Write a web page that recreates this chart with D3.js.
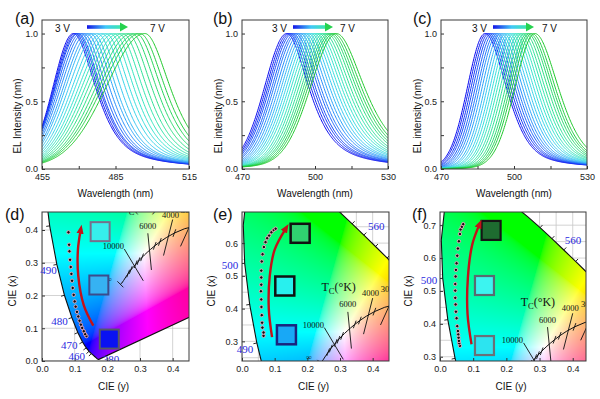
<!DOCTYPE html>
<html>
<head>
<meta charset="utf-8">
<script src="https://cdn.jsdelivr.net/npm/d3@7"></script>
<style>
  body { margin: 0; background: #fff; }
  svg { display: block; font-family: "Liberation Sans", Arial, sans-serif; }
</style>
</head>
<body>
<div id="fig"></div>
<script>
//** top row: EL spectra, 3 V -> 7 V (peak nm, left / right half widths nm) */
const voltText = ["3 V", "7 V"];
const aPeaks = [467.8, 468.5, 469.2, 469.8, 470.8, 471.9, 473.2, 474.6, 475.9, 477.6, 479.4, 481.0, 482.8, 484.4, 486.2, 487.9, 489.8, 491.6, 493.4, 495.0, 497.0];
const aHwl = [9.8, 10.2, 10.6, 11.0, 11.5, 11.9, 12.4, 12.8, 13.2, 13.7, 14.2, 14.6, 15.1, 15.5, 16.0, 16.4, 16.9, 17.3, 17.8, 18.2, 18.7];
const aHwr = [11.0, 11.0, 11.1, 11.1, 11.2, 11.2, 11.3, 11.4, 11.4, 11.5, 11.6, 11.7, 11.7, 11.8, 11.9, 12.0, 12.1, 12.2, 12.3, 12.4, 12.5];
const bPeaks = [488.4, 489.2, 490.0, 490.8, 491.8, 492.7, 493.8, 494.9, 496.0, 497.1, 498.2, 499.3, 500.4, 501.5, 502.6, 503.7, 504.8, 505.8, 506.7, 507.7, 508.8];
const bHwl = [10.8, 10.9, 11.0, 11.1, 11.2, 11.3, 11.4, 11.5, 11.6, 11.7, 11.8, 11.9, 12.0, 12.0, 12.1, 12.2, 12.3, 12.4, 12.4, 12.5, 12.6];
const bHwr = [11.0, 11.1, 11.3, 11.4, 11.6, 11.7, 11.9, 12.0, 12.2, 12.3, 12.5, 12.6, 12.8, 12.9, 13.1, 13.2, 13.4, 13.5, 13.7, 13.8, 14.0];
const cPeaks = [488.1, 488.9, 489.7, 490.6, 491.5, 492.5, 493.4, 494.5, 495.6, 496.7, 497.8, 498.9, 500.0, 501.1, 502.2, 503.3, 504.4, 505.5, 506.4, 507.4, 508.6];
const cHwl = [8.5, 8.6, 8.6, 8.7, 8.7, 8.8, 8.8, 8.9, 8.9, 9.0, 9.0, 9.1, 9.1, 9.2, 9.2, 9.3, 9.3, 9.4, 9.4, 9.5, 9.6];
const cHwr = [10.5, 10.5, 10.6, 10.6, 10.7, 10.7, 10.8, 10.8, 10.9, 10.9, 11.0, 11.0, 11.1, 11.1, 11.2, 11.2, 11.3, 11.3, 11.4, 11.4, 11.5];

//** bottom row: CIE 1931 spectral locus */
const locusNm = [380, 385, 390, 395, 400, 405, 410, 415, 420, 425, 430, 435, 440, 445, 450, 455, 460, 465, 470, 475, 480, 485, 490, 495, 500, 505, 510, 515, 520, 525, 530, 535, 540, 545, 550, 555, 560, 565, 570, 575, 580, 585, 590, 595, 600, 605, 610, 620, 630, 640, 650, 660, 680, 700];
const locusX = [0.1741, 0.1740, 0.1738, 0.1736, 0.1733, 0.1730, 0.1726, 0.1721, 0.1714, 0.1703, 0.1689, 0.1669, 0.1644, 0.1611, 0.1566, 0.1510, 0.1440, 0.1355, 0.1241, 0.1096, 0.0913, 0.0687, 0.0454, 0.0235, 0.0082, 0.0039, 0.0139, 0.0389, 0.0743, 0.1142, 0.1547, 0.1929, 0.2296, 0.2658, 0.3016, 0.3373, 0.3731, 0.4087, 0.4441, 0.4788, 0.5125, 0.5448, 0.5752, 0.6029, 0.6270, 0.6482, 0.6658, 0.6915, 0.7079, 0.7190, 0.7260, 0.7300, 0.7334, 0.7347];
const locusY = [0.0050, 0.0050, 0.0049, 0.0049, 0.0048, 0.0048, 0.0048, 0.0048, 0.0051, 0.0058, 0.0069, 0.0086, 0.0109, 0.0138, 0.0177, 0.0227, 0.0297, 0.0399, 0.0578, 0.0868, 0.1327, 0.2007, 0.2950, 0.4127, 0.5384, 0.6548, 0.7502, 0.8120, 0.8338, 0.8262, 0.8059, 0.7816, 0.7543, 0.7243, 0.6923, 0.6589, 0.6245, 0.5896, 0.5547, 0.5202, 0.4866, 0.4544, 0.4242, 0.3965, 0.3725, 0.3514, 0.3340, 0.3083, 0.2920, 0.2809, 0.2740, 0.2700, 0.2666, 0.2653];
const locusTicks = [455, 460, 465, 470, 475, 480, 485, 490, 495, 500, 550, 555, 560, 565, 570];

//** Planckian locus (T in K, "inf" first) */
const planckT = ["inf", 50000, 30000, 20000, 15000, 12000, 10000, 9000, 8000, 7000, 6500, 6000, 5500, 5000, 4500, 4000, 3500, 3000, 2500, 2000];
const planckX = [0.2399, 0.2446, 0.2497, 0.2565, 0.2637, 0.2718, 0.2807, 0.2869, 0.2952, 0.3064, 0.3135, 0.3221, 0.3325, 0.3451, 0.3608, 0.3805, 0.4053, 0.4369, 0.4770, 0.5267];
const planckY = [0.2342, 0.2382, 0.2457, 0.2564, 0.2670, 0.2779, 0.2884, 0.2956, 0.3048, 0.3166, 0.3237, 0.3318, 0.3411, 0.3516, 0.3636, 0.3768, 0.3907, 0.4041, 0.4137, 0.4133];
const shortIsoT = [15000, 12000, 9000, 8000, 7000, 5000, 4500, 3500];
const isoNames = ["10000", "6000", "4000", "3000"];
const isoEnds = [[0.252, 0.342, 0.310, 0.245], [0.324, 0.390, 0.335, 0.278], [0.400, 0.432, 0.372, 0.322], [0.458, 0.425, 0.424, 0.350]];

//** measured colour coordinates, 3 V (bottom) -> 7 V (top) */
const dPts = [[0.136, 0.076], [0.132, 0.082], [0.128, 0.091], [0.123, 0.101], [0.119, 0.111], [0.115, 0.123], [0.111, 0.136], [0.107, 0.150], [0.103, 0.166], [0.100, 0.182], [0.097, 0.202], [0.094, 0.223], [0.092, 0.245], [0.090, 0.266], [0.088, 0.287], [0.086, 0.309], [0.084, 0.335], [0.083, 0.355], [0.081, 0.393]];
const ePts = [[0.066, 0.317], [0.066, 0.327], [0.0625, 0.342], [0.0615, 0.357], [0.0605, 0.380], [0.0595, 0.405], [0.059, 0.428], [0.058, 0.453], [0.059, 0.473], [0.059, 0.495], [0.059, 0.516], [0.0605, 0.544], [0.063, 0.566], [0.067, 0.588], [0.072, 0.603], [0.077, 0.615], [0.083, 0.623], [0.090, 0.633], [0.097, 0.640], [0.103, 0.644]];
const fPts = [[0.060, 0.333], [0.058, 0.341], [0.057, 0.348], [0.056, 0.358], [0.055, 0.368], [0.054, 0.378], [0.052, 0.393], [0.050, 0.417], [0.048, 0.437], [0.047, 0.459], [0.046, 0.479], [0.046, 0.501], [0.046, 0.521], [0.047, 0.544], [0.048, 0.564], [0.050, 0.584], [0.052, 0.607], [0.054, 0.629], [0.057, 0.651], [0.060, 0.673], [0.062, 0.687], [0.066, 0.695], [0.070, 0.703]];
const dArrow = [[0.157, 0.108], [0.128, 0.170], [0.111, 0.260], [0.110, 0.340], [0.118, 0.398]];
const eArrow = [[0.092, 0.313], [0.082, 0.400], [0.085, 0.500], [0.100, 0.580], [0.133, 0.643]];
const fArrow = [[0.095, 0.338], [0.083, 0.430], [0.084, 0.540], [0.097, 0.640], [0.118, 0.700]];
// device photos (centre in CIE coords), bottom -> top
const dSquares = [[0.206, 0.067], [0.174, 0.232], [0.178, 0.395]];
const eSquares = [[0.136, 0.320], [0.131, 0.469], [0.178, 0.630]];
const fSquares = [[0.134, 0.334], [0.134, 0.5165], [0.154, 0.684]];

const curveColors = ["#0a0af0", "#1f78ff", "#3ee6f6", "#2de89c", "#1ec82a"];

const svg = d3.select("#fig").append("svg").attr("width", 600).attr("height", 399);
const defs = svg.append("defs");
svg.append("rect").attr("width", 600).attr("height", 399).attr("fill", "#fff");

defs.append("marker").attr("id", "redhead").attr("markerUnits", "userSpaceOnUse")
  .attr("viewBox", "0 -5 10 10").attr("refX", 3).attr("refY", 0)
  .attr("markerWidth", 10).attr("markerHeight", 10).attr("orient", "auto")
  .append("path").attr("d", "M0,-3.6L9,0L0,3.6Z").attr("fill", "#c4121a");

function pv(u, eta) {
  const u2 = u * u;
  return eta / (1 + u2) + (1 - eta) * Math.exp(-Math.LN2 * u2);
}

function frameAndAxes(g, xs, ys, xt, xl, yt, yl, fmt) {
  const [x0, x1] = xs.range(), [y1, y0] = ys.range();
  const ax = g.append("g").attr("transform", `translate(0,${y1})`)
    .call(d3.axisBottom(xs).tickValues(xt).tickSize(-3).tickPadding(5)
      .tickFormat(d => xl.some(v => Math.abs(v - d) < 1e-9) ? fmt(d) : ""));
  const ay = g.append("g").attr("transform", `translate(${x0},0)`)
    .call(d3.axisLeft(ys).tickValues(yt).tickSize(-3).tickPadding(4)
      .tickFormat(d => yl.some(v => Math.abs(v - d) < 1e-9) ? fmt(d) : ""));
  [ax, ay].forEach(a => {
    a.select(".domain").remove();
    a.attr("font-size", 9).attr("font-family", "Liberation Sans, Arial, sans-serif").attr("color", "#333");
    a.selectAll("text").attr("fill", "#1a1a1a");
  });
  g.append("rect").attr("x", x0).attr("y", y0).attr("width", x1 - x0).attr("height", y1 - y0)
    .attr("fill", "none").attr("stroke", "#3a3a3a").attr("stroke-width", 1);
}

//** spectra panels */
const topPanels = [
  { id: "a", x0: 42, x1: 189, dom: [455, 515], ticks: [455, 470, 485, 500, 515], labels: [455, 485, 515], peaks: aPeaks, hwl: aHwl, hwr: aHwr, etaL: 0.1, etaR: 0.7, title: "EL Intensity (nm)", tx: 17, lx: 15, v3: 55, arr: [87, 128], v7: 150 },
  { id: "b", x0: 242, x1: 388, dom: [470, 530], ticks: [470, 485, 500, 515, 530], labels: [470, 500, 530], peaks: bPeaks, hwl: bHwl, hwr: bHwr, etaL: 0.15, etaR: 0.75, title: "EL intensity (nm)", tx: 218, lx: 213, v3: 272, arr: [293, 333], v7: 340 },
  { id: "c", x0: 441, x1: 587, dom: [470, 530], ticks: [470, 485, 500, 515, 530], labels: [470, 500, 530], peaks: cPeaks, hwl: cHwl, hwr: cHwr, etaL: 0.05, etaR: 0.5, title: "EL intensity (nm)", tx: 417, lx: 413, v3: 472, arr: [493, 534], v7: 542 }
];

topPanels.forEach(p => {
  const xs = d3.scaleLinear().domain(p.dom).range([p.x0, p.x1]);
  const ys = d3.scaleLinear().domain([0, 1.1]).range([169, 20]);
  defs.append("clipPath").attr("id", "clip" + p.id).append("rect")
    .attr("x", p.x0).attr("y", 20).attr("width", p.x1 - p.x0).attr("height", 149);
  const g = svg.append("g");
  const plot = g.append("g").attr("clip-path", `url(#clip${p.id})`);
  const color = d3.scaleSequential(d3.interpolateRgbBasis(curveColors)).domain([0, p.peaks.length - 1]);
  const line = d3.line().x(d => xs(d[0])).y(d => ys(d[1]));
  const lam = d3.range(p.dom[0], p.dom[1] + 0.01, 0.25);
  p.peaks.forEach((pk, i) => {
    const pts = lam.map(l => [l, l < pk ? pv((pk - l) / p.hwl[i], p.etaL) : pv((l - pk) / p.hwr[i], p.etaR)]);
    plot.append("path").datum(pts).attr("d", line).attr("fill", "none")
      .attr("stroke", color(i)).attr("stroke-width", 1);
  });
  frameAndAxes(g, xs, ys, p.ticks, p.labels, [0, 0.25, 0.5, 0.75, 1], [0, 0.5, 1], d => p.ticks.includes(d) ? d : d3.format(".1f")(d));

  // voltage arrow
  const grad = defs.append("linearGradient").attr("id", "grad" + p.id);
  [["0%", "#1414e6"], ["55%", "#40c8f8"], ["100%", "#3ce8a8"]].forEach(s =>
    grad.append("stop").attr("offset", s[0]).attr("stop-color", s[1]));
  g.append("rect").attr("x", p.arr[0]).attr("y", 25.2).attr("width", p.arr[1] - p.arr[0] - 7).attr("height", 3.6)
    .attr("fill", `url(#grad${p.id})`);
  g.append("path").attr("d", `M${p.arr[1] - 8},22.5L${p.arr[1]},27L${p.arr[1] - 8},31.5Z`).attr("fill", "#26d24e");
  g.append("text").attr("x", p.v3).attr("y", 31.5).attr("font-size", 10).attr("fill", "#111").text(voltText[0]);
  g.append("text").attr("x", p.v7).attr("y", 31.5).attr("font-size", 10).attr("fill", "#111").text(voltText[1]);

  g.append("text").attr("x", (p.x0 + p.x1) / 2).attr("y", 197).attr("text-anchor", "middle")
    .attr("font-size", 10).attr("fill", "#111").text("Wavelength (nm)");
  g.append("text").attr("transform", `translate(${p.tx},116) rotate(-90)`).attr("dy", "0.35em")
    .attr("text-anchor", "middle").attr("font-size", 10).attr("fill", "#111").text(p.title);
  g.append("text").attr("x", p.lx).attr("y", 24).attr("font-size", 16).attr("fill", "#111").text(`(${p.id})`);
});

//** CIE panels */
function chromaRGB(x, y) {
  y = Math.max(y, 1e-4);
  const X = x / y, Z = (1 - x - y) / y;
  let r = Math.max(3.2406 * X - 1.5372 - 0.4986 * Z, 0);
  let gg = Math.max(-0.9689 * X + 1.8758 + 0.0415 * Z, 0);
  let b = Math.max(0.0557 * X - 0.2040 + 1.0570 * Z, 0);
  const m = Math.max(r, gg, b) || 1;
  return [r / m, gg / m, b / m].map(c => 255 * (c <= 0.0031308 ? 12.92 * c : 1.055 * Math.pow(c, 1 / 2.4) - 0.055));
}

function gamutImage(xs, ys) {
  const [x0, x1] = xs.range(), [y1, y0] = ys.range();
  const w = Math.ceil(x1 - x0), h = Math.ceil(y1 - y0);
  const cv = document.createElement("canvas");
  cv.width = w; cv.height = h;
  const ctx = cv.getContext("2d");
  const img = ctx.createImageData(w, h);
  for (let j = 0; j < h; j++) {
    for (let i = 0; i < w; i++) {
      const c = chromaRGB(xs.invert(x0 + i + 0.5), ys.invert(y0 + j + 0.5));
      const k = 4 * (j * w + i);
      img.data[k] = c[0]; img.data[k + 1] = c[1]; img.data[k + 2] = c[2]; img.data[k + 3] = 255;
    }
  }
  ctx.putImageData(img, 0, 0);
  return cv.toDataURL();
}

const botPanels = [
  { id: "d", x0: 42, x1: 189, xdom: [0, 0.45], ydom: [0, 0.455], yticks: [0, 0.1, 0.2, 0.3, 0.4], grid: 0.1, pts: dPts, arrow: dArrow, sq: dSquares,
    sqFill: ["#0a12f2", "#36b2f2", "#36eeec"], sqStroke: ["#55586a", "#3c4c8c", "#76708c"], sqW: 2,
    wl: [[460, -4, 9, "end"], [470, -5, 7, "end"], [480, -4, 7, "end"], [490, 0, 10, "end"]], lx: 5, tx: 12 },
  { id: "e", x0: 242, x1: 389, xdom: [0, 0.45], ydom: [0.24, 0.695], yticks: [0.3, 0.4, 0.5, 0.6], grid: 0.05, pts: ePts, arrow: eArrow, sq: eSquares,
    sqFill: ["#18a8f6", "#28f0ee", "#30d270"], sqStroke: ["#1a237e", "#111", "#111"], sqW: 2.5,
    wl: [[490, -3.5, 10, "end"], [500, -6.5, 6, "end"], [560, 4, -5, "start"]], lx: 213, tx: 211 },
  { id: "f", x0: 440, x1: 586, xdom: [0, 0.44], ydom: [0.287, 0.74], yticks: [0.3, 0.4, 0.5, 0.6, 0.7], grid: 0.05, pts: fPts, arrow: fArrow, sq: fSquares,
    sqFill: ["#2ce4f0", "#3cf4f0", "#1e6c30"], sqStroke: ["#6a7078", "#5a6a70", "#151515"], sqW: 2.2,
    wl: [[500, -5.5, 5.5, "end"], [560, 1, -6, "start"]], lx: 412, tx: 408 }
];

botPanels.forEach(p => {
  const xs = d3.scaleLinear().domain(p.xdom).range([p.x0, p.x1]);
  const ys = d3.scaleLinear().domain(p.ydom).range([361, 212]);
  defs.append("clipPath").attr("id", "clip" + p.id).append("rect")
    .attr("x", p.x0).attr("y", 212).attr("width", p.x1 - p.x0).attr("height", 149);
  const locusPx = locusNm.map((n, i) => [xs(locusX[i]), ys(locusY[i])]);
  defs.append("clipPath").attr("id", "loc" + p.id).append("path")
    .attr("d", "M" + locusPx.join("L") + "Z");

  const g = svg.append("g");
  const plot = g.append("g").attr("clip-path", `url(#clip${p.id})`);

  // grid
  const gx = d3.range(p.xdom[0], p.xdom[1] + 1e-6, p.grid), gy = d3.range(Math.ceil(p.ydom[0] / p.grid - 1e-6) * p.grid, p.ydom[1] + 1e-6, p.grid);
  plot.selectAll(null).data(gx).join("line").attr("x1", d => xs(d)).attr("x2", d => xs(d)).attr("y1", 212).attr("y2", 361)
    .attr("stroke", "#c8c8c8").attr("stroke-width", 0.8);
  plot.selectAll(null).data(gy).join("line").attr("y1", d => ys(d)).attr("y2", d => ys(d)).attr("x1", p.x0).attr("x2", p.x1)
    .attr("stroke", "#c8c8c8").attr("stroke-width", 0.8);

  // gamut
  plot.append("g").attr("clip-path", `url(#loc${p.id})`).append("image")
    .attr("x", p.x0).attr("y", 212).attr("width", Math.ceil(p.x1 - p.x0)).attr("height", 149)
    .attr("preserveAspectRatio", "none").attr("href", gamutImage(xs, ys));
  plot.append("path").attr("d", "M" + locusPx.join("L") + "Z").attr("fill", "none")
    .attr("stroke", "#111").attr("stroke-width", 1.1);

  // wavelength ticks on locus
  locusTicks.forEach(n => {
    const i = locusNm.indexOf(n);
    const a = locusPx[i - 1], b = locusPx[i + 1], c = locusPx[i];
    let tx = b[0] - a[0], ty = b[1] - a[1];
    const L = Math.hypot(tx, ty); tx /= L; ty /= L;
    const nx = ty, ny = -tx; // outward in screen space
    plot.append("line").attr("x1", c[0]).attr("y1", c[1]).attr("x2", c[0] + 3.5 * nx).attr("y2", c[1] + 3.5 * ny)
      .attr("stroke", "#111").attr("stroke-width", 0.9);
  });

  // Planckian locus + isotherms
  const pl = d3.line().x(d => xs(d[0])).y(d => ys(d[1]));
  plot.append("path").datum(planckX.map((v, i) => [v, planckY[i]])).attr("d", pl)
    .attr("fill", "none").attr("stroke", "#111").attr("stroke-width", 1);
  isoEnds.forEach(e => plot.append("line").attr("x1", xs(e[0])).attr("y1", ys(e[1])).attr("x2", xs(e[2])).attr("y2", ys(e[3]))
    .attr("stroke", "#111").attr("stroke-width", 0.9));
  shortIsoT.forEach(t => {
    const i = planckT.indexOf(t);
    const cx = xs(planckX[i]), cy = ys(planckY[i]);
    plot.append("line").attr("x1", cx - 1.4).attr("y1", cy + 3.8).attr("x2", cx + 1.4).attr("y2", cy - 3.8)
      .attr("stroke", "#111").attr("stroke-width", 0.9);
  });
  {
    const cx = xs(planckX[0]), cy = ys(planckY[0]);
    plot.append("line").attr("x1", cx - 3).attr("y1", cy - 3).attr("x2", cx + 3).attr("y2", cy + 3)
      .attr("stroke", "#111").attr("stroke-width", 0.9);
  }
  const inY = v => v > p.ydom[0] && v < p.ydom[1] + 0.02;
  const isoLabelAt = [[0.186, 0.342], [0.298, 0.404], [0.367, 0.438], [0.425, 0.452]];
  isoNames.forEach((s, i) => {
    if (!inY(isoLabelAt[i][1])) return;
    plot.append("text").attr("x", xs(isoLabelAt[i][0])).attr("y", ys(isoLabelAt[i][1]))
      .attr("font-family", "Liberation Serif, serif").attr("font-size", 8.5).attr("fill", "#111").text(s);
  });
  if (inY(0.249)) {
    plot.append("text").attr("x", xs(0.205)).attr("y", ys(0.249)).attr("dy", "0.3em").attr("text-anchor", "middle")
      .attr("font-family", "Liberation Serif, serif").attr("font-size", 8).attr("fill", "#111").text("\u221e");
  }
  const tc = plot.append("text").attr("x", xs(0.243)).attr("y", ys(0.454))
    .attr("font-family", "Liberation Serif, serif").attr("font-size", 12).attr("fill", "#111");
  tc.append("tspan").text("T");
  tc.append("tspan").attr("font-size", 8.5).attr("dy", 3).text("C");
  tc.append("tspan").attr("dy", -3).text("(\u00b0K)");
  if (p.id === "d") {
    plot.append("text").attr("x", locusPx[0][0] + 4).attr("y", 363).attr("font-family", "Liberation Serif, serif")
      .attr("font-size", 11).attr("fill", "#2a2ae0").text("380");
  }

  // device photos
  p.sq.forEach((s, i) => g.append("rect").attr("x", xs(s[0]) - 9.5).attr("y", ys(s[1]) - 9.5).attr("width", 19).attr("height", 19)
    .attr("fill", p.sqFill[i]).attr("stroke", p.sqStroke[i]).attr("stroke-width", p.sqW));

  // arrow + coordinates
  g.append("path").datum(p.arrow).attr("d", d3.line().x(d => xs(d[0])).y(d => ys(d[1])).curve(d3.curveCatmullRom))
    .attr("fill", "none").attr("stroke", "#c4121a").attr("stroke-width", 2.4).attr("marker-end", "url(#redhead)");
  g.selectAll(null).data(p.pts).join("circle").attr("cx", d => xs(d[0])).attr("cy", d => ys(d[1])).attr("r", 1.7)
    .attr("fill", "#111").attr("stroke", "#f2a8bc").attr("stroke-width", 0.9);

  frameAndAxes(g, xs, ys, [0, 0.1, 0.2, 0.3, 0.4], [0, 0.1, 0.2, 0.3, 0.4], p.yticks, p.yticks, d3.format(".1f"));

  // wavelength labels
  p.wl.forEach(w => {
    const i = locusNm.indexOf(w[0]);
    g.append("text").attr("x", locusPx[i][0] + w[1]).attr("y", locusPx[i][1] + w[2]).attr("text-anchor", w[3])
      .attr("font-family", "Liberation Serif, serif").attr("font-size", 11).attr("fill", "#2a2ae0").text(w[0]);
  });

  g.append("text").attr("x", (p.x0 + p.x1) / 2 - 2).attr("y", 390).attr("text-anchor", "middle")
    .attr("font-size", 10).attr("fill", "#111").text("CIE (y)");
  g.append("text").attr("transform", `translate(${p.tx},291) rotate(-90)`).attr("dy", "0.35em")
    .attr("text-anchor", "middle").attr("font-size", 10).attr("fill", "#111").text("CIE (x)");
  g.append("text").attr("x", p.lx).attr("y", 220).attr("font-size", 16).attr("fill", "#111").text(`(${p.id})`);
});
</script>
</body>
</html>
